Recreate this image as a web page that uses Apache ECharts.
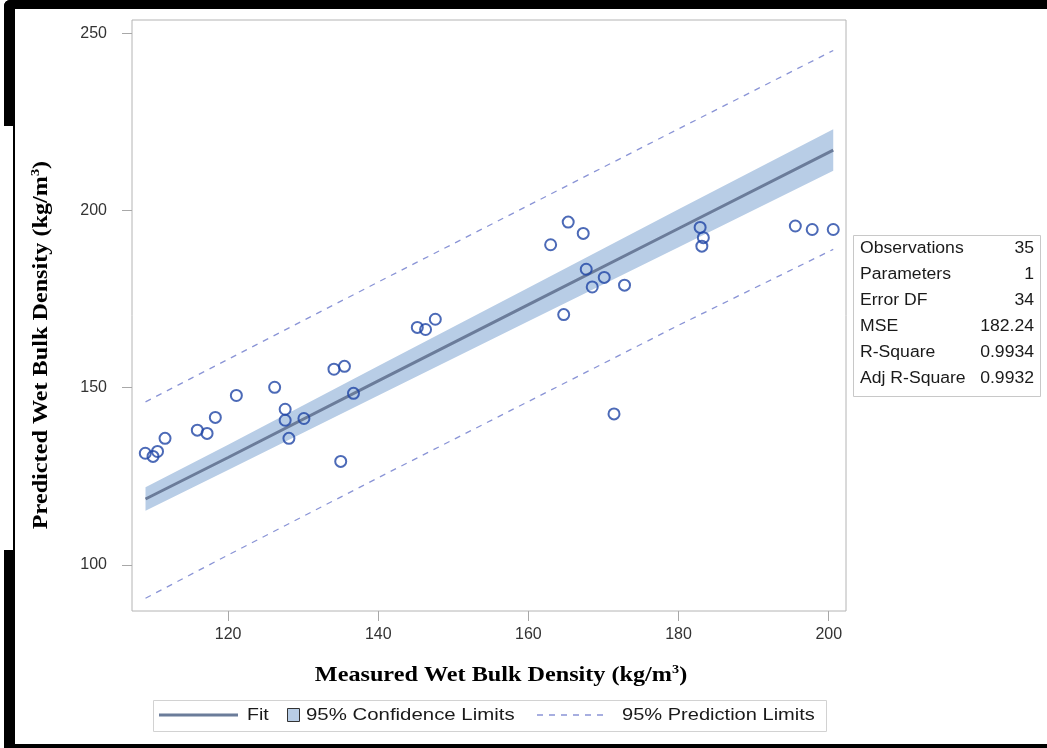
<!DOCTYPE html>
<html>
<head>
<meta charset="utf-8">
<script src="https://cdn.jsdelivr.net/npm/echarts@6/dist/echarts.min.js"></script>
<style>
html,body{margin:0;padding:0;background:#fff;}
#c{width:1047px;height:748px;}
</style>
</head>
<body>
<div id="c"></div>
<script>
// ---- data ----
const measured = [108.97,110.0,110.6,111.6,115.9,117.2,118.3,121.1,126.2,127.6,127.6,128.1,130.1,134.1,135.5,135.0,136.7,145.2,146.3,147.6,
  162.96,165.3,167.3,167.7,170.1,168.5,172.8,164.7,171.4,182.87,183.3,183.1,195.55,197.8,200.6];
const predicted = [131.5,130.6,132.0,135.7,138.0,137.1,141.6,147.8,150.1,143.9,140.8,135.7,141.3,155.2,156.0,129.2,148.4,167.0,166.4,169.3,
  190.3,196.7,193.5,183.4,181.1,178.4,178.9,170.6,142.6,195.2,192.3,189.9,195.6,194.6,194.6];

const lineX   = [109.0, 120, 140, 160, 180, 200.6];
const fitY    = [118.6, 130.3, 151.9, 173.4, 194.9, 217.0];
const ciLower = [115.3, 126.8, 147.8, 168.7, 189.6, 211.2];
const ciUpper = [121.9, 133.9, 156.1, 178.2, 200.3, 222.9];
const piLower = [90.6, 102.8, 124.6, 146.1, 167.6, 189.0];
const piUpper = [146.0, 158.0, 179.8, 201.4, 223.0, 245.1];

const xTicks = [120, 140, 160, 180, 200];
const yTicks = [100, 150, 200, 250];

const statNames  = ['Observations','Parameters','Error DF','MSE','R-Square','Adj R-Square'];
const statValues = ['35','1','34','182.24','0.9934','0.9932'];

// ---- chart ----
const chart = echarts.init(document.getElementById('c'), null, {renderer:'canvas'});

const FIT_COLOR = '#6b7c9a';
const BAND_COLOR = '#b8cde6';
const PI_COLOR = '#8a94d6';
const PT_COLOR = '#1f45a5';
const AX_FONT = '"Liberation Sans", Arial, sans-serif';
const TITLE_FONT = '"Liberation Serif", "Times New Roman", serif';

const bandData = lineX.map((x,i)=>[x, ciLower[i], ciUpper[i]]);

const graphics = [];
// black frame pieces
graphics.push({type:'rect', shape:{x:4,y:0,width:1043,height:9,r:[6,0,0,0]}, style:{fill:'#000'}, z:100});
graphics.push({type:'rect', shape:{x:4,y:0,width:11,height:126,r:[6,0,0,0]}, style:{fill:'#000'}, z:100});
graphics.push({type:'rect', shape:{x:13,y:126,width:2,height:424}, style:{fill:'#000'}, z:100});
graphics.push({type:'rect', shape:{x:4,y:550,width:11,height:198}, style:{fill:'#000'}, z:100});
graphics.push({type:'rect', shape:{x:4,y:744,width:1043,height:4}, style:{fill:'#000'}, z:100});

const titleRich = {sup:{font:'bold 13px ' + TITLE_FONT, fill:'#000', verticalAlign:'top', padding:[0,0,10,0]}};
// axis titles
graphics.push({
  type:'text', x:41, y:345, rotation:Math.PI/2, scaleX:1.1,
  style:{
    text:'Predicted Wet Bulk Density (kg/m{sup|3})',
    font:'bold 22px ' + TITLE_FONT, fill:'#000', align:'center', verticalAlign:'middle',
    rich:titleRich
  }, z:50
});
graphics.push({
  type:'text', x:501, y:675, scaleX:1.1,
  style:{
    text:'Measured Wet Bulk Density (kg/m{sup|3})',
    font:'bold 22px ' + TITLE_FONT, fill:'#000', align:'center', verticalAlign:'middle',
    rich:titleRich
  }, z:50
});

// stats table
graphics.push({type:'rect', shape:{x:853.5,y:235.5,width:187,height:161}, style:{fill:'#fff', stroke:'#c8c8c8', lineWidth:1}, z:40});
statNames.forEach((n,i)=>{
  const yy = 249 + i*26;
  graphics.push({type:'text', x:860, y:yy, scaleX:1.1, style:{text:n, font:'16px ' + AX_FONT, fill:'#1a1a1a', align:'left', verticalAlign:'middle'}, z:41});
  graphics.push({type:'text', x:1034, y:yy, scaleX:1.1, style:{text:statValues[i], font:'16px ' + AX_FONT, fill:'#1a1a1a', align:'right', verticalAlign:'middle'}, z:41});
});

// legend
graphics.push({type:'rect', shape:{x:153.5,y:700.5,width:673,height:31}, style:{fill:'#fff', stroke:'#d2d2d2', lineWidth:1}, z:40});
graphics.push({type:'line', shape:{x1:159,y1:715,x2:238,y2:715}, style:{stroke:FIT_COLOR, lineWidth:3}, z:41});
graphics.push({type:'text', x:247, y:715, scaleX:1.15, style:{text:'Fit', font:'17px ' + AX_FONT, fill:'#1a1a1a', align:'left', verticalAlign:'middle'}, z:41});
graphics.push({type:'rect', shape:{x:287.5,y:708.5,width:12,height:13}, style:{fill:BAND_COLOR, stroke:'#333', lineWidth:1}, z:41});
graphics.push({type:'text', x:306, y:715, scaleX:1.2, style:{text:'95% Confidence Limits', font:'17px ' + AX_FONT, fill:'#1a1a1a', align:'left', verticalAlign:'middle'}, z:41});
graphics.push({type:'line', shape:{x1:537,y1:715,x2:608,y2:715}, style:{stroke:PI_COLOR, lineWidth:1.3, lineDash:[6,6]}, z:41});
graphics.push({type:'text', x:622, y:715, scaleX:1.18, style:{text:'95% Prediction Limits', font:'17px ' + AX_FONT, fill:'#1a1a1a', align:'left', verticalAlign:'middle'}, z:41});

const option = {
  backgroundColor:'#fff',
  animation:false,
  grid:{left:132, right:201, top:20, bottom:137, show:true, borderColor:'#b4b4b4', borderWidth:1, backgroundColor:'#fff'},
  xAxis:{
    type:'value', min:107.2, max:202.3,
    axisLine:{show:false},
    splitLine:{show:false},
    axisTick:{show:true, length:10, lineStyle:{color:'#a8a8a8'}, customValues:xTicks},
    axisLabel:{color:'#333', fontSize:16, fontFamily:AX_FONT, margin:16, customValues:xTicks}
  },
  yAxis:{
    type:'value', min:87, max:253.7,
    axisLine:{show:false},
    splitLine:{show:false},
    axisTick:{show:true, length:10, lineStyle:{color:'#a8a8a8'}, customValues:yTicks},
    axisLabel:{color:'#333', fontSize:16, fontFamily:AX_FONT, margin:25, customValues:yTicks}
  },
  series:[
    {
      type:'custom', name:'95% Confidence Limits', clip:true, z:1,
      data:bandData,
      renderItem:function(params, api){
        if (params.dataIndex !== 0) return null;
        const pts = [];
        for (let i=0;i<bandData.length;i++) pts.push(api.coord([bandData[i][0], bandData[i][2]]));
        for (let i=bandData.length-1;i>=0;i--) pts.push(api.coord([bandData[i][0], bandData[i][1]]));
        return {type:'polygon', shape:{points:pts}, style:{fill:BAND_COLOR, stroke:null}};
      }
    },
    {type:'line', name:'upperPI', data:lineX.map((x,i)=>[x,piUpper[i]]), symbol:'none', z:2,
      lineStyle:{color:PI_COLOR, width:1.3, type:[6,6]}},
    {type:'line', name:'lowerPI', data:lineX.map((x,i)=>[x,piLower[i]]), symbol:'none', z:2,
      lineStyle:{color:PI_COLOR, width:1.3, type:[6,6]}},
    {type:'line', name:'Fit', data:lineX.map((x,i)=>[x,fitY[i]]), symbol:'none', z:3,
      lineStyle:{color:FIT_COLOR, width:3}},
    {type:'scatter', name:'obs', data:measured.map((x,i)=>[x,predicted[i]]), z:4,
      symbol:'circle', symbolSize:11,
      itemStyle:{color:'rgba(255,255,255,0)', borderColor:PT_COLOR, borderWidth:2}}
  ],
  graphic:graphics
};
chart.setOption(option);
</script>
</body>
</html>
